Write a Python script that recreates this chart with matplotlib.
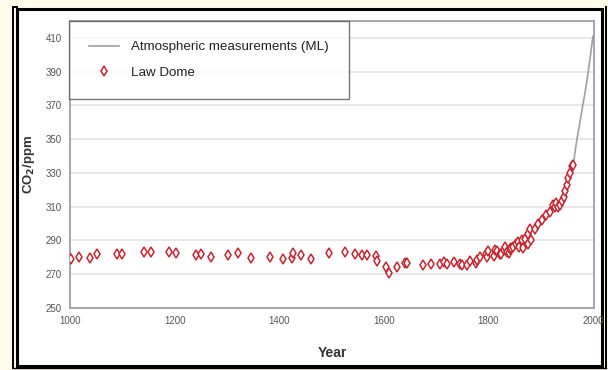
import matplotlib
matplotlib.use("Agg")
import matplotlib.pyplot as plt
from matplotlib.patches import Rectangle
from matplotlib.lines import Line2D

plt.rcParams['font.family'] = ['Liberation Sans', 'DejaVu Sans']

# Law Dome ice core CO2 (year, ppm)
law_years = [998, 1001, 1017, 1038, 1052, 1090, 1100, 1141, 1154, 1189, 1202,
             1240, 1251, 1270, 1303, 1322, 1346, 1382, 1408, 1425, 1427, 1441,
             1460, 1496, 1525, 1545, 1559, 1568, 1586, 1588, 1604, 1610, 1626,
             1640, 1645, 1675, 1690, 1707, 1716, 1720, 1734, 1745, 1750, 1760,
             1765, 1776, 1779, 1784, 1795, 1798, 1800, 1810, 1812, 1816, 1822,
             1825, 1829, 1832, 1835, 1840, 1841, 1844, 1847, 1852, 1857, 1859,
             1864, 1867, 1870, 1875, 1876, 1880, 1882, 1889, 1895, 1902, 1911,
             1918, 1924, 1927, 1930, 1933, 1937, 1940, 1944, 1947, 1950, 1953,
             1956, 1959, 1961]
law_ppm = [280.5, 279.0, 280.4, 279.4, 282.0, 282.0, 282.0, 283.3, 283.3, 283.3,
           282.7, 281.4, 282.0, 280.4, 281.4, 282.7, 279.4, 280.0, 279.0, 279.4,
           282.4, 281.4, 279.0, 282.4, 283.0, 282.0, 281.4, 281.4, 280.8, 278.0,
           274.0, 271.0, 274.0, 276.5, 276.5, 275.5, 276.0, 276.3, 277.0, 276.0,
           277.5, 276.0, 275.5, 275.5, 278.0, 276.5, 278.5, 280.0, 282.0, 280.4,
           284.0, 281.0, 284.3, 284.0, 282.0, 282.0, 284.3, 286.0, 283.0, 282.7,
           285.0, 285.3, 286.0, 288.0, 289.0, 286.0, 290.0, 285.3, 291.0, 288.0,
           294.0, 297.0, 290.0, 297.0, 300.0, 302.0, 305.0, 307.0, 311.0, 310.0,
           312.0, 310.0, 311.0, 313.5, 316.0, 319.5, 323.0, 327.0, 330.0, 334.0,
           335.0]

# Atmospheric measurements (ML) as placed in the picture
ml_years = [1961, 1965, 1970, 1975, 1980, 1985, 1990, 1995, 2000]
ml_ppm = [330, 341, 351, 360, 369, 378, 388, 399, 411]

x_ticks = [1000, 1200, 1400, 1600, 1800, 2000]
y_ticks = [250, 270, 290, 310, 330, 350, 370, 390, 410]

fig = plt.figure(figsize=(6.08, 3.70), dpi=100)
fig.patch.set_facecolor('#fffbea')

W, H = 608, 370
def rx(p):
    return p / W
def ry(p):
    return 1 - p / H

# white panel and double black frame
fig.patches.append(Rectangle((rx(17), ry(366)), rx(602) - rx(17), ry(9) - ry(366),
                             transform=fig.transFigure, facecolor='white',
                             edgecolor='black', linewidth=2.2, zorder=-5))
for xs, ys, lw in [([13, 13], [368, 7], 1.4), ([13, 17], [7, 7], 1.4),
                   ([606, 606], [7, 368], 1.4), ([13, 606], [368, 368], 1.0)]:
    fig.lines.append(Line2D([rx(v) for v in xs], [ry(v) for v in ys],
                            transform=fig.transFigure, color='black',
                            linewidth=lw, zorder=-4))

ax = fig.add_axes([rx(70), ry(308), rx(594) - rx(70), ry(21) - ry(308)])
ax.set_zorder(2)
ax.set_facecolor('white')
ax.set_xlim(1000, 2002)
ax.set_ylim(250, 420)
ax.set_xticks(x_ticks)
ax.set_yticks(y_ticks)
ax.tick_params(length=0, labelsize=7, colors='#555555', pad=6)
ax.yaxis.grid(True, color='#e4e4e4', linewidth=1.2)
ax.set_axisbelow(True)
for side in ['left', 'bottom', 'top', 'right']:
    ax.spines[side].set_color('#9a9a9a')
    ax.spines[side].set_linewidth(1.2)

ax.plot(ml_years, ml_ppm, color='#a0a0a0', linewidth=1.2,
        label='Atmospheric measurements (ML)', zorder=2)
ax.plot(law_years, law_ppm, linestyle='none', marker='d', markersize=5.2,
        markerfacecolor='white', markeredgecolor='#c42630', markeredgewidth=1.1,
        label='Law Dome', zorder=3)

ax.set_xlabel('Year', fontsize=10, fontweight='bold', color='#333333', labelpad=14)
ax.set_ylabel(r'CO$_\mathbf{2}$/ppm', fontsize=9.5, fontweight='bold', color='#333333',
              labelpad=6)

leg = ax.legend(loc='upper left', bbox_to_anchor=(-0.001, 1.0), fontsize=9.6,
                frameon=True, fancybox=False, borderaxespad=0, labelspacing=1.0,
                handlelength=2.2, handletextpad=0.9, borderpad=1.5)
leg.get_frame().set_edgecolor('#555555')
leg.get_frame().set_linewidth(1.0)
for t in leg.get_texts():
    t.set_color('#222222')

fig.savefig('out.png', dpi=100, facecolor=fig.get_facecolor())
